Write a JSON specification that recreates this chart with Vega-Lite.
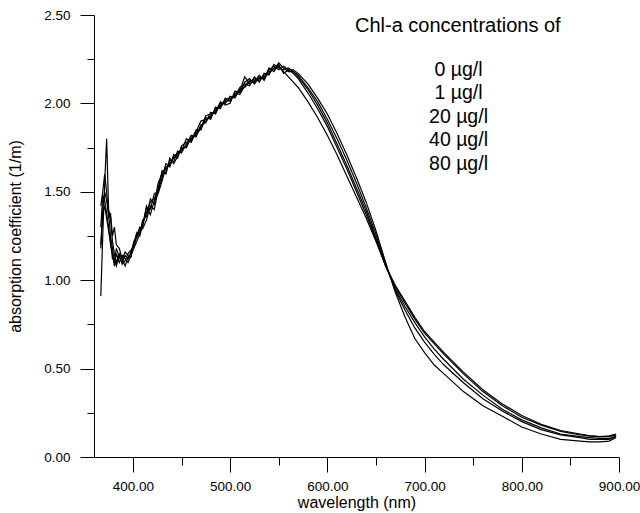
{
  "$schema": "https://vega.github.io/schema/vega-lite/v6.json",
  "autosize": {"type": "none"},
  "padding": {"left": 94, "top": 15, "right": 21, "bottom": 56},
  "width": 525,
  "height": 442,
  "background": "white",
  "config": {
    "view": {"stroke": null},
    "font": "Liberation Sans",
    "axis": {"grid": false, "domainColor": "black", "tickColor": "black", "labelColor": "black", "titleColor": "black", "labelFont": "Liberation Sans", "titleFont": "Liberation Sans", "titleFontWeight": "normal", "domainWidth": 1, "tickWidth": 1}
  },
  "data": {
    "values": [
      {"w":367,"0 µg/l":1.20,"1 µg/l":1.42,"20 µg/l":1.30,"40 µg/l":0.91,"80 µg/l":1.18},
      {"w":369,"0 µg/l":1.38,"1 µg/l":1.50,"20 µg/l":1.48,"40 µg/l":1.25,"80 µg/l":1.40},
      {"w":371,"0 µg/l":1.42,"1 µg/l":1.60,"20 µg/l":1.45,"40 µg/l":1.55,"80 µg/l":1.50},
      {"w":373,"0 µg/l":1.35,"1 µg/l":1.50,"20 µg/l":1.38,"40 µg/l":1.80,"80 µg/l":1.45},
      {"w":375,"0 µg/l":1.28,"1 µg/l":1.35,"20 µg/l":1.30,"40 µg/l":1.40,"80 µg/l":1.38},
      {"w":377,"0 µg/l":1.22,"1 µg/l":1.38,"20 µg/l":1.20,"40 µg/l":1.35,"80 µg/l":1.25},
      {"w":379,"0 µg/l":1.12,"1 µg/l":1.25,"20 µg/l":1.15,"40 µg/l":1.22,"80 µg/l":1.18},
      {"w":381,"0 µg/l":1.12,"1 µg/l":1.30,"20 µg/l":1.08,"40 µg/l":1.15,"80 µg/l":1.10},
      {"w":383,"0 µg/l":1.08,"1 µg/l":1.20,"20 µg/l":1.15,"40 µg/l":1.10,"80 µg/l":1.18},
      {"w":386,"0 µg/l":1.14,"1 µg/l":1.18,"20 µg/l":1.10,"40 µg/l":1.15,"80 µg/l":1.13},
      {"w":389,"0 µg/l":1.09,"1 µg/l":1.12,"20 µg/l":1.14,"40 µg/l":1.12,"80 µg/l":1.10},
      {"w":392,"0 µg/l":1.11,"1 µg/l":1.16,"20 µg/l":1.12,"40 µg/l":1.08,"80 µg/l":1.14},
      {"w":395,"0 µg/l":1.15,"1 µg/l":1.14,"20 µg/l":1.10,"40 µg/l":1.13,"80 µg/l":1.12},
      {"w":398,"0 µg/l":1.17,"1 µg/l":1.13,"20 µg/l":1.14,"40 µg/l":1.15,"80 µg/l":1.16},
      {"w":401,"0 µg/l":1.19,"1 µg/l":1.21,"20 µg/l":1.18,"40 µg/l":1.22,"80 µg/l":1.20},
      {"w":404,"0 µg/l":1.25,"1 µg/l":1.27,"20 µg/l":1.22,"40 µg/l":1.24,"80 µg/l":1.26},
      {"w":407,"0 µg/l":1.30,"1 µg/l":1.25,"20 µg/l":1.26,"40 µg/l":1.29,"80 µg/l":1.27},
      {"w":410,"0 µg/l":1.29,"1 µg/l":1.31,"20 µg/l":1.34,"40 µg/l":1.30,"80 µg/l":1.32},
      {"w":414,"0 µg/l":1.34,"1 µg/l":1.42,"20 µg/l":1.36,"40 µg/l":1.41,"80 µg/l":1.38},
      {"w":418,"0 µg/l":1.42,"1 µg/l":1.37,"20 µg/l":1.46,"40 µg/l":1.40,"80 µg/l":1.44},
      {"w":422,"0 µg/l":1.40,"1 µg/l":1.45,"20 µg/l":1.43,"40 µg/l":1.49,"80 µg/l":1.46},
      {"w":426,"0 µg/l":1.51,"1 µg/l":1.49,"20 µg/l":1.55,"40 µg/l":1.50,"80 µg/l":1.52},
      {"w":430,"0 µg/l":1.62,"1 µg/l":1.56,"20 µg/l":1.60,"40 µg/l":1.58,"80 µg/l":1.61},
      {"w":434,"0 µg/l":1.60,"1 µg/l":1.64,"20 µg/l":1.61,"40 µg/l":1.66,"80 µg/l":1.63},
      {"w":438,"0 µg/l":1.69,"1 µg/l":1.65,"20 µg/l":1.68,"40 µg/l":1.64,"80 µg/l":1.66},
      {"w":442,"0 µg/l":1.66,"1 µg/l":1.70,"20 µg/l":1.67,"40 µg/l":1.71,"80 µg/l":1.69},
      {"w":446,"0 µg/l":1.70,"1 µg/l":1.72,"20 µg/l":1.73,"40 µg/l":1.69,"80 µg/l":1.71},
      {"w":450,"0 µg/l":1.75,"1 µg/l":1.73,"20 µg/l":1.72,"40 µg/l":1.76,"80 µg/l":1.74},
      {"w":455,"0 µg/l":1.75,"1 µg/l":1.80,"20 µg/l":1.77,"40 µg/l":1.78,"80 µg/l":1.76},
      {"w":460,"0 µg/l":1.81,"1 µg/l":1.78,"20 µg/l":1.82,"40 µg/l":1.79,"80 µg/l":1.80},
      {"w":465,"0 µg/l":1.82,"1 µg/l":1.84,"20 µg/l":1.81,"40 µg/l":1.85,"80 µg/l":1.83},
      {"w":470,"0 µg/l":1.86,"1 µg/l":1.90,"20 µg/l":1.88,"40 µg/l":1.85,"80 µg/l":1.87},
      {"w":475,"0 µg/l":1.93,"1 µg/l":1.91,"20 µg/l":1.89,"40 µg/l":1.92,"80 µg/l":1.90},
      {"w":480,"0 µg/l":1.94,"1 µg/l":1.92,"20 µg/l":1.95,"40 µg/l":1.91,"80 µg/l":1.93},
      {"w":485,"0 µg/l":1.95,"1 µg/l":1.97,"20 µg/l":1.94,"40 µg/l":1.98,"80 µg/l":1.96},
      {"w":490,"0 µg/l":2.01,"1 µg/l":1.98,"20 µg/l":2.00,"40 µg/l":1.97,"80 µg/l":1.99},
      {"w":495,"0 µg/l":1.99,"1 µg/l":2.02,"20 µg/l":2.00,"40 µg/l":2.03,"80 µg/l":2.01},
      {"w":500,"0 µg/l":2.00,"1 µg/l":2.03,"20 µg/l":2.04,"40 µg/l":2.01,"80 µg/l":2.02},
      {"w":505,"0 µg/l":2.07,"1 µg/l":2.04,"20 µg/l":2.03,"40 µg/l":2.06,"80 µg/l":2.05},
      {"w":510,"0 µg/l":2.06,"1 µg/l":2.09,"20 µg/l":2.08,"40 µg/l":2.05,"80 µg/l":2.07},
      {"w":515,"0 µg/l":2.12,"1 µg/l":2.11,"20 µg/l":2.09,"40 µg/l":2.10,"80 µg/l":2.15},
      {"w":520,"0 µg/l":2.14,"1 µg/l":2.10,"20 µg/l":2.12,"40 µg/l":2.13,"80 µg/l":2.11},
      {"w":525,"0 µg/l":2.11,"1 µg/l":2.15,"20 µg/l":2.14,"40 µg/l":2.12,"80 µg/l":2.13},
      {"w":530,"0 µg/l":2.15,"1 µg/l":2.12,"20 µg/l":2.13,"40 µg/l":2.16,"80 µg/l":2.14},
      {"w":535,"0 µg/l":2.14,"1 µg/l":2.17,"20 µg/l":2.16,"40 µg/l":2.13,"80 µg/l":2.15},
      {"w":540,"0 µg/l":2.20,"1 µg/l":2.16,"20 µg/l":2.18,"40 µg/l":2.19,"80 µg/l":2.17},
      {"w":545,"0 µg/l":2.18,"1 µg/l":2.22,"20 µg/l":2.19,"40 µg/l":2.21,"80 µg/l":2.20},
      {"w":550,"0 µg/l":2.22,"1 µg/l":2.20,"20 µg/l":2.23,"40 µg/l":2.19,"80 µg/l":2.21},
      {"w":555,"0 µg/l":2.17,"1 µg/l":2.19,"20 µg/l":2.20,"40 µg/l":2.21,"80 µg/l":2.18},
      {"w":560,"0 µg/l":2.19,"1 µg/l":2.20,"20 µg/l":2.18,"40 µg/l":2.19,"80 µg/l":2.15},
      {"w":565,"0 µg/l":2.19,"1 µg/l":2.18,"20 µg/l":2.18,"40 µg/l":2.17,"80 µg/l":2.12},
      {"w":570,"0 µg/l":2.17,"1 µg/l":2.16,"20 µg/l":2.15,"40 µg/l":2.14,"80 µg/l":2.09},
      {"w":580,"0 µg/l":2.11,"1 µg/l":2.09,"20 µg/l":2.08,"40 µg/l":2.06,"80 µg/l":2.01},
      {"w":590,"0 µg/l":2.03,"1 µg/l":2.01,"20 µg/l":1.99,"40 µg/l":1.97,"80 µg/l":1.92},
      {"w":600,"0 µg/l":1.94,"1 µg/l":1.91,"20 µg/l":1.89,"40 µg/l":1.87,"80 µg/l":1.82},
      {"w":610,"0 µg/l":1.83,"1 µg/l":1.80,"20 µg/l":1.77,"40 µg/l":1.75,"80 µg/l":1.71},
      {"w":620,"0 µg/l":1.71,"1 µg/l":1.68,"20 µg/l":1.65,"40 µg/l":1.63,"80 µg/l":1.59},
      {"w":630,"0 µg/l":1.58,"1 µg/l":1.55,"20 µg/l":1.52,"40 µg/l":1.50,"80 µg/l":1.47},
      {"w":640,"0 µg/l":1.44,"1 µg/l":1.41,"20 µg/l":1.39,"40 µg/l":1.37,"80 µg/l":1.35},
      {"w":650,"0 µg/l":1.28,"1 µg/l":1.26,"20 µg/l":1.24,"40 µg/l":1.23,"80 µg/l":1.22},
      {"w":660,"0 µg/l":1.10,"1 µg/l":1.09,"20 µg/l":1.08,"40 µg/l":1.08,"80 µg/l":1.08},
      {"w":670,"0 µg/l":0.93,"1 µg/l":0.94,"20 µg/l":0.95,"40 µg/l":0.96,"80 µg/l":0.97},
      {"w":680,"0 µg/l":0.79,"1 µg/l":0.83,"20 µg/l":0.85,"40 µg/l":0.87,"80 µg/l":0.88},
      {"w":690,"0 µg/l":0.67,"1 µg/l":0.73,"20 µg/l":0.76,"40 µg/l":0.78,"80 µg/l":0.79},
      {"w":700,"0 µg/l":0.59,"1 µg/l":0.65,"20 µg/l":0.68,"40 µg/l":0.70,"80 µg/l":0.71},
      {"w":710,"0 µg/l":0.52,"1 µg/l":0.58,"20 µg/l":0.61,"40 µg/l":0.64,"80 µg/l":0.65},
      {"w":720,"0 µg/l":0.47,"1 µg/l":0.52,"20 µg/l":0.55,"40 µg/l":0.58,"80 µg/l":0.59},
      {"w":740,"0 µg/l":0.37,"1 µg/l":0.42,"20 µg/l":0.44,"40 µg/l":0.47,"80 µg/l":0.48},
      {"w":760,"0 µg/l":0.29,"1 µg/l":0.33,"20 µg/l":0.35,"40 µg/l":0.37,"80 µg/l":0.38},
      {"w":780,"0 µg/l":0.23,"1 µg/l":0.26,"20 µg/l":0.27,"40 µg/l":0.29,"80 µg/l":0.30},
      {"w":800,"0 µg/l":0.17,"1 µg/l":0.20,"20 µg/l":0.21,"40 µg/l":0.225,"80 µg/l":0.235},
      {"w":820,"0 µg/l":0.13,"1 µg/l":0.155,"20 µg/l":0.165,"40 µg/l":0.18,"80 µg/l":0.185},
      {"w":840,"0 µg/l":0.10,"1 µg/l":0.125,"20 µg/l":0.13,"40 µg/l":0.145,"80 µg/l":0.15},
      {"w":860,"0 µg/l":0.09,"1 µg/l":0.11,"20 µg/l":0.115,"40 µg/l":0.125,"80 µg/l":0.13},
      {"w":870,"0 µg/l":0.085,"1 µg/l":0.10,"20 µg/l":0.11,"40 µg/l":0.12,"80 µg/l":0.12},
      {"w":880,"0 µg/l":0.085,"1 µg/l":0.10,"20 µg/l":0.105,"40 µg/l":0.115,"80 µg/l":0.115},
      {"w":890,"0 µg/l":0.09,"1 µg/l":0.10,"20 µg/l":0.105,"40 µg/l":0.115,"80 µg/l":0.12},
      {"w":897,"0 µg/l":0.11,"1 µg/l":0.115,"20 µg/l":0.12,"40 µg/l":0.125,"80 µg/l":0.13}
    ]
  },
  "transform": [
    {"fold": ["0 µg/l", "1 µg/l", "20 µg/l", "40 µg/l", "80 µg/l"], "as": ["conc", "abs"]}
  ],
  "mark": {"type": "line", "strokeWidth": 1.2, "interpolate": "linear"},
  "encoding": {
    "x": {
      "field": "w", "type": "quantitative",
      "scale": {"domain": [360, 900], "nice": false, "zero": false},
      "axis": {
        "title": "wavelength (nm)",
        "values": [400, 450, 500, 550, 600, 650, 700, 750, 800, 850, 900],
        "labelExpr": "datum.value % 100 === 0 ? format(datum.value, '.2f') : ''",
        "tickSize": {"condition": {"test": "datum.value % 100 === 0", "value": 15}, "value": 8},
        "labelPadding": 7,
        "labelFontSize": 13.5,
        "labelFlush": false,
        "labelOverlap": false,
        "titleFontSize": 16,
        "titleBaseline": "middle",
        "titleY": 45
      }
    },
    "y": {
      "field": "abs", "type": "quantitative",
      "scale": {"domain": [0, 2.5], "nice": false},
      "axis": {
        "title": "absorption coefficient (1/m)",
        "values": [0, 0.25, 0.5, 0.75, 1, 1.25, 1.5, 1.75, 2, 2.25, 2.5],
        "labelExpr": "datum.value % 0.5 === 0 ? format(datum.value, '.2f') : ''",
        "tickSize": {"condition": {"test": "datum.value % 0.5 === 0", "value": 14}, "value": 7},
        "labelPadding": 10,
        "labelFontSize": 13.5,
        "labelFlush": false,
        "labelOverlap": false,
        "titleFontSize": 16,
        "titleBaseline": "middle",
        "titleX": -79
      }
    },
    "color": {
      "field": "conc", "type": "nominal",
      "scale": {"domain": ["0 µg/l", "1 µg/l", "20 µg/l", "40 µg/l", "80 µg/l"], "range": ["#000000", "#000000", "#000000", "#000000", "#000000"]},
      "legend": {
        "title": "Chl-a concentrations of",
        "orient": "none",
        "legendX": 261,
        "legendY": 1,
        "padding": 0,
        "titleFont": "Liberation Sans",
        "titleFontSize": 20,
        "titleFontWeight": "normal",
        "titleColor": "black",
        "titleLimit": 400,
        "titlePadding": 24,
        "labelFont": "Liberation Sans",
        "labelFontSize": 19.5,
        "labelColor": "black",
        "labelAlign": "center",
        "labelOffset": 84,
        "labelLimit": 200,
        "rowPadding": 2.5,
        "symbolOpacity": 0,
        "symbolSize": 0,
        "symbolStrokeWidth": 0
      }
    }
  }
}
